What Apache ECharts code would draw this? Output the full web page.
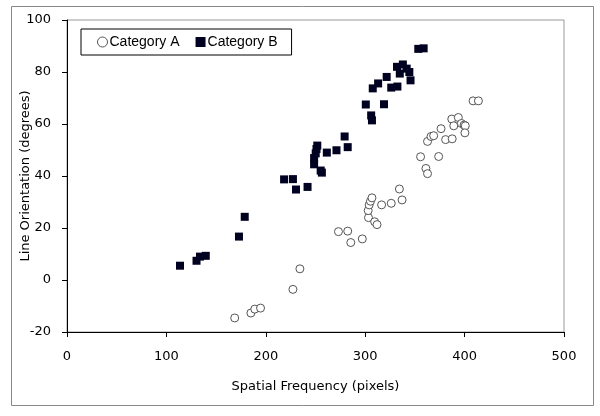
<!DOCTYPE html>
<html><head><meta charset="utf-8">
<script src="https://cdn.jsdelivr.net/npm/echarts@6/dist/echarts.min.js"></script>
<style>html,body{margin:0;padding:0;background:#fff}#c{width:600px;height:416px}</style>
</head><body><div id="c"></div>
<script>
const seriesNames = ["Category A", "Category B"];
const catA = [
[168.7,-14.6],[185,-12.7],[188.9,-11.2],[194.7,-10.8],[227.3,-3.6],[234.3,4.3],
[273.1,18.6],[282.4,18.8],[285.5,14.4],[297.1,15.8],[303.3,24.0],[303,26.7],
[304,28.9],[305.3,30.3],[306.8,31.6],[309.5,22.4],[311.9,21.3],[316.5,28.9],
[326.2,29.5],[334.4,35],[337.1,30.8],[355.7,47.4],[361.1,42.9],[362.7,40.9],
[362.7,53.3],[366.2,55.2],[368.9,55.5],[373.9,47.5],[376.3,58.2],[380.9,54.0],
[387.5,54.3],[387.1,61.9],[389.1,59.3],[393.7,62.5],[396.8,60.2],[399.5,59.6],
[400.7,59.3],[400.3,56.6],[408.5,68.9],[413.9,68.9]
];
const catB = [
[113.7,5.5],[130.3,7.4],[133.8,9.0],[139.6,9.3],[173,16.7],[178.8,24.3],
[218.4,38.7],[227.3,38.8],[230.4,34.8],[242,35.8],[248.6,46.9],[248.6,44.5],
[250.2,48.7],[251,50.4],[251.8,51.7],[255.2,42.1],[256.4,41.3],[261.4,49.0],
[271.1,49.9],[279.3,55.2],[282.4,51.1],[300.6,67.5],[306,63.3],[306.8,61.4],
[307.6,73.7],[313,75.6],[318.9,67.6],[321.6,78.1],[326.2,74.0],[332.4,74.4],
[332,82],[334.8,79.4],[337.9,82.9],[341.7,81.3],[344.4,80.0],[345.6,76.8],
[353.4,88.9],[358.8,89.1]
];
const xTitle = "Spatial Frequency (pixels)";
const yTitle = "Line Orientation (degrees)";

const font = "DejaVu Sans, Liberation Sans, Arial, sans-serif";
const lfont = "Liberation Sans, Arial, sans-serif";
const chart = echarts.init(document.getElementById('c'), null, {renderer:'canvas'});
chart.setOption({
  animation:false,
  backgroundColor:'#fff',
  graphic:[{type:'rect', shape:{x:11.5,y:6.5,width:582,height:399}, style:{fill:'none', stroke:'#888', lineWidth:1}, silent:true, z:-1}],
  grid:{left:67, right:36, top:20, bottom:84, show:true, borderColor:'#999', borderWidth:1,
        containLabel:false, outerBoundsMode:'none'},
  legend:{
    left:81, top:29, orient:'horizontal',
    borderColor:'#000', borderWidth:1, padding:[6,14,6,16],
    itemGap:16, itemWidth:10, itemHeight:10,
    textStyle:{fontFamily:lfont, fontSize:14, color:'#000', padding:[0,0,0,-3]},
    data:[
      {name:seriesNames[0], icon:'circle', itemStyle:{color:'#fff', borderColor:'#555', borderWidth:1}},
      {name:seriesNames[1], icon:'rect', itemStyle:{color:'#000020'}}
    ]
  },
  xAxis:{
    type:'value', min:0, max:500, interval:100,
    name:xTitle, nameLocation:'middle', nameGap:48, nameMoveOverlap:false,
    nameTextStyle:{fontFamily:font, fontSize:13, color:'#000'},
    axisLine:{show:true, onZero:false, lineStyle:{color:'#000', width:1}},
    axisTick:{show:true, inside:false, length:5, lineStyle:{color:'#000'}},
    axisLabel:{fontFamily:font, fontSize:13, color:'#000', margin:18},
    splitLine:{show:false}
  },
  yAxis:{
    type:'value', min:-20, max:100, interval:20,
    name:yTitle, nameLocation:'middle', nameGap:35, nameMoveOverlap:false,
    nameTextStyle:{fontFamily:font, fontSize:13, color:'#000'},
    axisLine:{show:true, onZero:false, lineStyle:{color:'#000', width:1}},
    axisTick:{show:true, inside:false, length:5, lineStyle:{color:'#000'}},
    axisLabel:{fontFamily:font, fontSize:13, color:'#000', margin:16},
    splitLine:{show:false}
  },
  series:[
    {name:seriesNames[0], type:'scatter', symbol:'circle', symbolSize:8, data:catA,
     itemStyle:{color:'#fff', borderColor:'#555', borderWidth:1, opacity:1}},
    {name:seriesNames[1], type:'scatter', symbol:'rect', symbolSize:8, data:catB,
     itemStyle:{color:'#000020', opacity:1}}
  ]
});
</script></body></html>
